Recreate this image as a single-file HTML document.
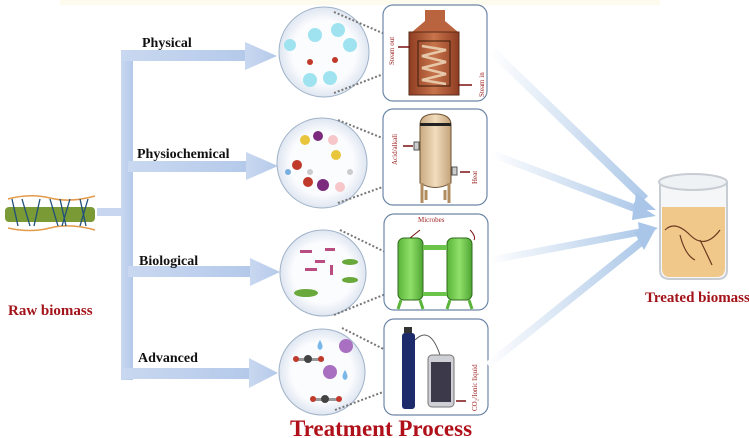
<!DOCTYPE html>
<html><head><meta charset="utf-8"><style>
html,body{margin:0;padding:0;background:#fff;}
svg{display:block;font-family:"Liberation Serif",serif;}
</style></head><body>
<svg width="749" height="438" viewBox="0 0 749 438" xmlns="http://www.w3.org/2000/svg">
<defs>
<linearGradient id="bar" x1="0" x2="1"><stop offset="0" stop-color="#c9d8f0"/><stop offset="1" stop-color="#b4c9ea"/></linearGradient>
<linearGradient id="fade" x1="0" x2="1"><stop offset="0" stop-color="#ffffff"/><stop offset="1" stop-color="#a9c6e8"/></linearGradient>
<linearGradient id="cop" x1="0" x2="1"><stop offset="0" stop-color="#8e3d22"/><stop offset="0.5" stop-color="#c8734b"/><stop offset="1" stop-color="#8e3d22"/></linearGradient>
<linearGradient id="tan" x1="0" x2="1"><stop offset="0" stop-color="#c9aa82"/><stop offset="0.5" stop-color="#f1dcbc"/><stop offset="1" stop-color="#c4a47c"/></linearGradient>
<linearGradient id="grn" x1="0" x2="1"><stop offset="0" stop-color="#5bb53a"/><stop offset="0.5" stop-color="#8ee06a"/><stop offset="1" stop-color="#4fa532"/></linearGradient>
<radialGradient id="circ"><stop offset="0.7" stop-color="#fbfcfe"/><stop offset="1" stop-color="#dfe6f1"/></radialGradient>
</defs>
<rect x="60" y="0" width="600" height="5" fill="#fdfbee"/>
<rect x="97" y="208" width="34" height="8" fill="#c8d7ef"/>
<rect x="121" y="50" width="12" height="330" fill="url(#bar)"/>
<g fill="url(#bar)">
<rect x="121" y="50" width="128" height="11"/><polygon points="245,42 277,56 245,70"/>
<rect x="128" y="161" width="122" height="11"/><polygon points="246,152 278,166 246,180"/>
<rect x="128" y="266" width="122" height="11"/><polygon points="250,258 280,272 250,286"/>
<rect x="121" y="368" width="130" height="11"/><polygon points="249,358 278,373 249,388"/>
</g>
<g font-weight="bold" font-size="14" fill="#111">
<text x="142" y="47">Physical</text>
<text x="137" y="158">Physiochemical</text>
<text x="139" y="265">Biological</text>
<text x="138" y="362">Advanced</text>
</g>
<path d="M8 199 Q30 193 50 198 T95 196" stroke="#e39a4a" stroke-width="1.5" fill="none"/>
<path d="M8 228 Q30 233 50 228 T95 230" stroke="#e39a4a" stroke-width="1.5" fill="none"/>
<rect x="5" y="207" width="90" height="15" rx="4" fill="#7a9a35"/>
<path d="M12 199 L18 226 M22 199 L30 226 M40 199 L34 226 M50 199 L58 226 M60 199 L66 226 M70 199 L62 226 M80 199 L86 226 M88 199 L80 226" stroke="#1f4f7a" stroke-width="1.3"/>
<text x="8" y="315" font-weight="bold" font-size="15" fill="#a3131a">Raw biomass</text>
<g stroke="#9fb2c8" stroke-width="1" fill="url(#circ)">
<circle cx="324" cy="52" r="45"/><circle cx="322" cy="163" r="45"/><circle cx="323" cy="273" r="43"/><circle cx="322" cy="372" r="43"/>
</g>
<g fill="#9fe3f0"><circle cx="290" cy="45" r="6"/><circle cx="315" cy="35" r="7"/><circle cx="338" cy="30" r="7"/><circle cx="350" cy="45" r="7"/><circle cx="310" cy="80" r="7"/><circle cx="330" cy="78" r="7"/></g>
<circle cx="310" cy="62" r="3" fill="#c0392b"/><circle cx="335" cy="60" r="3" fill="#c0392b"/>
<circle cx="305" cy="140" r="5" fill="#e8c53a"/><circle cx="318" cy="136" r="5" fill="#7b2a7e"/><circle cx="333" cy="140" r="5" fill="#f7c6c8"/><circle cx="336" cy="155" r="5" fill="#e8c53a"/><circle cx="297" cy="165" r="5" fill="#c0392b"/><circle cx="308" cy="182" r="5" fill="#c0392b"/><circle cx="323" cy="185" r="6" fill="#7b2a7e"/><circle cx="340" cy="187" r="5" fill="#f7c6c8"/><circle cx="288" cy="172" r="3" fill="#7aaee0"/><circle cx="310" cy="172" r="3" fill="#ccc"/><circle cx="350" cy="172" r="3" fill="#ccc"/>
<g fill="#b94c80"><rect x="300" y="250" width="12" height="3"/><rect x="315" y="260" width="10" height="3"/><rect x="305" y="268" width="12" height="3"/><rect x="325" y="248" width="10" height="3"/><rect x="330" y="265" width="3" height="10"/></g>
<g fill="#69a83a"><ellipse cx="350" cy="262" rx="8" ry="3"/><ellipse cx="350" cy="280" rx="8" ry="3"/><ellipse cx="306" cy="293" rx="12" ry="4"/></g>
<g fill="#79b8e8"><path d="M320 340 q-5 8 0 10 q5 -2 0 -10z"/><path d="M345 370 q-5 8 0 10 q5 -2 0 -10z"/></g>
<circle cx="346" cy="346" r="7" fill="#a96fc0"/><circle cx="330" cy="372" r="7" fill="#a96fc0"/>
<g><rect x="294" y="358" width="30" height="3" fill="#999"/><circle cx="296" cy="359" r="3" fill="#c0392b"/><circle cx="308" cy="359" r="4" fill="#444"/><circle cx="321" cy="359" r="3" fill="#c0392b"/>
<rect x="311" y="398" width="30" height="3" fill="#999"/><circle cx="313" cy="399" r="3" fill="#c0392b"/><circle cx="325" cy="399" r="4" fill="#444"/><circle cx="339" cy="399" r="3" fill="#c0392b"/></g>
<g stroke="#777" stroke-width="2" stroke-dasharray="2,2" fill="none">
<path d="M334 12 L410 45 M334 93 L420 60"/><path d="M338 120 L412 150 M338 203 L430 170"/><path d="M340 230 L418 268 M334 315 L420 280"/><path d="M342 328 L415 365 M335 410 L415 380"/>
</g>
<g fill="#fff" stroke="#6d87a8" stroke-width="1.2">
<rect x="383" y="5" width="104" height="96" rx="10"/><rect x="383" y="109" width="104" height="96" rx="10"/><rect x="384" y="214" width="104" height="96" rx="10"/><rect x="384" y="319" width="104" height="96" rx="10"/>
</g>
<rect x="425" y="10" width="20" height="12" fill="#b9643f"/>
<polygon points="412,32 425,21 445,21 458,32" fill="#b9643f"/>
<rect x="409" y="32" width="50" height="63" fill="url(#cop)" stroke="#5a2a15"/>
<rect x="418" y="41" width="32" height="45" fill="none" stroke="#3a1a0a"/>
<path d="M422 46 L446 50 L422 56 L446 62 L422 68 L446 74 L422 80 L446 84" stroke="#e6c7a8" stroke-width="2.5" fill="none"/>
<g font-size="7" fill="#9b1c1c"><text transform="translate(394,65) rotate(-90)">Steam out</text><text transform="translate(484,97) rotate(-90)">Steam in</text></g>
<path d="M410 47 L398 47 M472 85 L458 85" stroke="#7a1010" stroke-width="1.5"/>
<path d="M420 125 Q420 114 435 114 Q451 114 451 125 L451 183 Q435 192 420 183Z" fill="url(#tan)" stroke="#6b5030"/>
<rect x="420" y="123" width="31" height="3" fill="#222"/>
<path d="M422 183 L422 203 M449 183 L449 203 M426 190 L426 200 M445 190 L445 200" stroke="#b08c5e" stroke-width="3"/>
<rect x="414" y="142" width="5" height="8" fill="#ccc" stroke="#555"/><rect x="452" y="167" width="5" height="8" fill="#ccc" stroke="#555"/>
<g font-size="7" fill="#9b1c1c"><text transform="translate(397,165) rotate(-90)">Acid/alkali</text><text transform="translate(477,184) rotate(-90)">Heat</text></g>
<path d="M413 146 L403 146 M470 172 L460 172" stroke="#7a1010" stroke-width="1.5"/>
<text x="418" y="222" font-size="7" fill="#9b1c1c">Microbes</text>
<path d="M412 237 Q400 245 410 238 L420 230 M470 230 Q476 236 474 240" stroke="#7a1010" fill="none"/>
<rect x="398" y="238" width="25" height="62" rx="6" fill="url(#grn)" stroke="#2f6a1c"/>
<rect x="447" y="238" width="25" height="62" rx="6" fill="url(#grn)" stroke="#2f6a1c"/>
<rect x="423" y="245" width="24" height="5" fill="#6cc54a"/><rect x="423" y="292" width="24" height="4" fill="#6cc54a"/>
<path d="M401 300 L398 309 M420 300 L423 309 M450 300 L447 309 M469 300 L472 309" stroke="#5bb53a" stroke-width="3"/>
<rect x="404" y="327" width="8" height="6" fill="#333"/>
<rect x="402" y="333" width="13" height="76" rx="3" fill="#1d2b6a"/>
<path d="M415 340 Q430 325 440 355" stroke="#555" fill="none"/>
<rect x="428" y="355" width="26" height="52" rx="4" fill="#cfcfd6" stroke="#777"/>
<rect x="431" y="362" width="20" height="40" fill="#3c3a4a"/>
<text transform="translate(477,411) rotate(-90)" font-size="7" fill="#9b1c1c">CO₂/Ionic liquid</text>
<path d="M466 401 L456 401" stroke="#7a1010" stroke-width="1.5"/>
<g fill="url(#fade)" opacity="0.95">
<polygon points="490,55 496,49 648,196 642,202"/>
<polygon points="490,157 492,150 642,207 639,214"/>
<polygon points="490,264 489,257 642,228 643,235"/>
<polygon points="490,368 486,362 640,238 645,244"/>
</g>
<g fill="#a9c6e8">
<polygon points="636,192 656,210 634,210"/>
<polygon points="634,202 656,216 632,220"/>
<polygon points="638,222 658,228 640,240"/>
<polygon points="634,232 656,228 644,250"/>
</g>
<path d="M660 182 L660 270 Q660 279 670 279 L718 279 Q727 279 727 270 L727 182" fill="#f4f6f8" stroke="#c8cdd3" stroke-width="2"/>
<ellipse cx="693" cy="182" rx="34" ry="8" fill="#eef2f5" stroke="#c8cdd3" stroke-width="2"/>
<path d="M662 207 L725 207 L725 268 Q725 277 716 277 L670 277 Q662 277 662 268Z" fill="#f0c88a"/>
<path d="M665 230 Q675 220 690 235 T720 230 M680 235 Q685 255 695 260 M700 240 Q705 250 712 265" stroke="#6b3a20" stroke-width="1.2" fill="none"/>
<text x="645" y="302" font-weight="bold" font-size="15" fill="#a3131a">Treated biomass</text>
<text x="290" y="436" font-weight="bold" font-size="23" fill="#b0101a">Treatment Process</text>
</svg>
</body></html>
